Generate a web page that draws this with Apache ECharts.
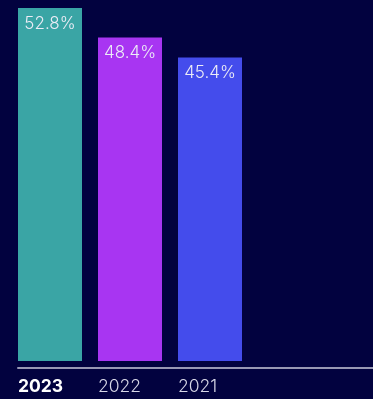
<!DOCTYPE html>
<html>
<head>
<meta charset="utf-8">
<script src="https://cdn.jsdelivr.net/npm/echarts@6/dist/echarts.min.js"></script>
<style>
  html, body { margin: 0; padding: 0; background: #02023f; }
  #chart { width: 373px; height: 399px; }
</style>
</head>
<body>
<div id="chart"></div>
<script>
// Share by year
const years = ['2023', '2022', '2021'];
const shares = [52.8, 48.4, 45.4];
const barColors = ['#3aa5a5', '#a835f2', '#444cec'];

const chart = echarts.init(document.getElementById('chart'), null, { renderer: 'canvas' });

const fontFamily = 'Inter, "Noto Sans", sans-serif';

chart.setOption({
  backgroundColor: '#02023f',
  animation: false,
  grid: [
    { left: 10, right: 123, top: 8, bottom: 38, containLabel: false },
    // baseline rule spanning to the right edge
    { left: 18, right: 0, top: 8, bottom: 31, containLabel: false }
  ],
  xAxis: [
    {
      type: 'category',
      gridIndex: 0,
      data: years,
      axisLine: { show: false },
      axisTick: { show: false },
      axisLabel: {
        margin: 17,
        formatter: function (v, i) {
          return (i === 0 ? '{hi|' : '{lo|') + v + '}';
        },
        rich: {
          hi: { width: 64, align: 'left', fontFamily: fontFamily, fontSize: 17.5, fontWeight: 700, color: '#ffffff' },
          lo: { width: 64, align: 'left', fontFamily: fontFamily, fontSize: 17.5, fontWeight: 300, color: '#d6d6e6' }
        }
      }
    },
    {
      type: 'value',
      gridIndex: 1,
      min: 0,
      max: 1,
      axisLine: { show: true, lineStyle: { color: '#9898b4', width: 2 } },
      axisTick: { show: false },
      axisLabel: { show: false },
      splitLine: { show: false }
    }
  ],
  yAxis: [
    {
      type: 'value',
      gridIndex: 0,
      min: 0,
      max: 'dataMax',
      show: false
    },
    { type: 'value', gridIndex: 1, show: false }
  ],
  series: [
    {
      type: 'bar',
      xAxisIndex: 0,
      yAxisIndex: 0,
      barWidth: 64,
      data: shares.map((v, i) => ({ value: v, itemStyle: { color: barColors[i] } })),
      label: {
        show: true,
        position: 'insideTop',
        distance: 7,
        formatter: p => p.value.toFixed(1) + '%',
        fontFamily: fontFamily,
        fontSize: 17,
        fontWeight: 300,
        color: '#ececf6'
      }
    }
  ]
});
</script>
</body>
</html>
